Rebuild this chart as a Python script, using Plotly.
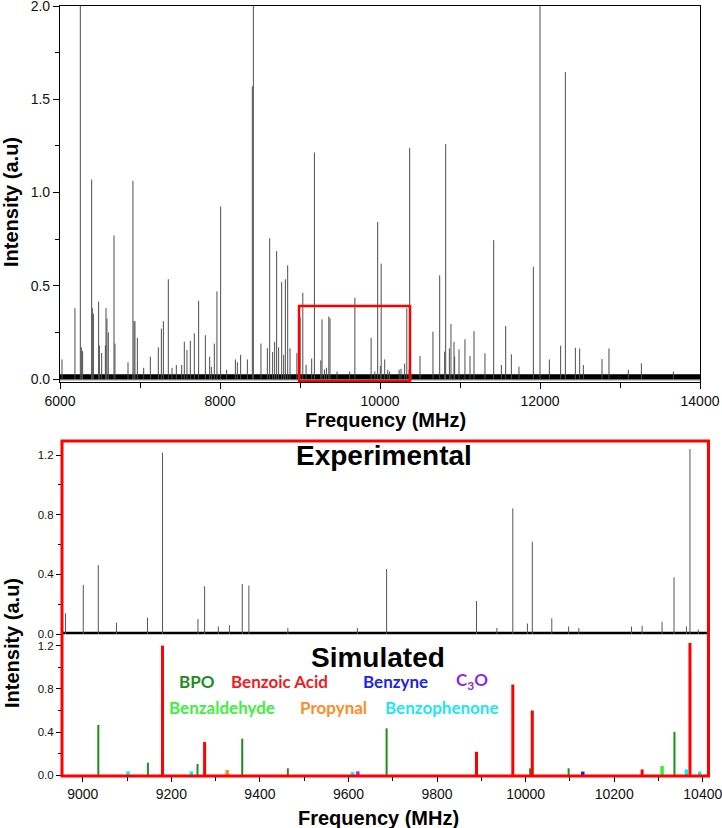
import plotly.graph_objects as go

# ---------------- data ----------------
# Experimental stick spectrum (MHz, a.u.)
exp_freq = [6025, 6187, 6254, 6267, 6283, 6396, 6404, 6417, 6483, 6492, 6521, 6567, 6575, 6587, 6604,
            6675, 6687, 6850, 6912, 6925, 6937, 6967, 7046, 7129, 7229, 7267, 7292, 7354, 7400, 7454,
            7521, 7554, 7587, 7629, 7679, 7733, 7817, 7871, 7892, 7929, 7962, 8008, 8083, 8192, 8217,
            8258, 8342, 8404, 8417, 8512, 8592, 8621, 8658, 8683, 8708, 8733, 8771, 8796, 8817, 8846,
            8875,
            8961, 9001, 9035, 9076, 9146, 9180, 9260, 9275, 9306, 9331, 9360, 9375, 9463, 9620, 9686,
            9889, 9935, 9971, 10004, 10015, 10059, 10097, 10120, 10239, 10263, 10308, 10335, 10363,
            10371, 10390,
            10500, 10662, 10746, 10808, 10821, 10867, 10887, 10925, 10933, 10988, 11062, 11125, 11175,
            11312, 11421, 11517, 11571, 11642, 11737, 11917, 12000, 12117, 12258, 12317, 12442, 12496,
            12542, 12775, 12862, 13104, 13267, 13667]
exp_int = [0.105, 0.38, 2.3, 0.17, 0.15, 1.07, 0.38, 0.35, 0.415, 0.18, 0.14, 0.18, 0.38, 0.325, 0.25,
           0.77, 0.19, 0.09, 1.063, 0.31, 0.31, 0.22, 0.06, 0.12, 0.17, 0.27, 0.31, 0.535, 0.06, 0.075,
           0.075, 0.2, 0.155, 0.205, 0.245, 0.42, 0.235, 0.12, 0.065, 0.19, 0.47, 0.925, 0.05, 0.105, 0.09,
           0.13, 0.105, 1.57, 2.3, 0.19, 0.165, 0.755, 0.145, 0.2, 0.686, 0.17, 0.52, 0.13, 0.535, 0.61,
           0.165,
           0.139, 0.33, 0.462, 0.076, 0.11, 1.215, 0.1, 0.32, 0.05, 0.06, 0.335, 0.325, 0.04, 0.04, 0.436,
           0.221, 0.04, 0.842, 0.07, 0.619, 0.105, 0.05, 0.04, 0.05, 0.055, 0.083, 0.38, 0.05,
           1.24, 0.03,
           0.123, 0.254, 0.556, 0.147, 1.26, 0.165, 0.295, 0.2, 0.12, 0.159, 0.213, 0.123, 0.257,
           0.138, 0.745, 0.075, 0.284, 0.132, 0.066, 0.602, 2.3, 0.105, 0.179, 1.646, 0.168, 0.164,
           0.075, 0.107, 0.164, 0.05, 0.084, 0.04]
noise_level_top = 0.012
noise_level_zoom = 0.006

# Simulated sticks per species
bpo_freq = [9035, 9147, 9259, 9360, 9463, 9686, 10010, 10097, 10336]
bpo_int = [0.466, 0.117, 0.105, 0.339, 0.065, 0.435, 0.065, 0.065, 0.403]
benzoic_freq = [9180, 9275, 9889, 9971, 10015, 10263, 10371]
benzoic_int = [1.2, 0.308, 0.218, 0.84, 0.6, 0.055, 1.225]
benzyne_freq = [10129]
benzyne_int = [0.035]
c3o_freq = [9621]
c3o_int = [0.037]
benzaldehyde_freq = [10308]
benzaldehyde_int = [0.086]
propynal_freq = [9326]
propynal_int = [0.05]
benzophenone_freq = [9102, 9245, 9609, 10363, 10393]
benzophenone_int = [0.037, 0.037, 0.03, 0.055, 0.035]

zoom_range = [8953, 10414]
zoom_box = [8988, 10375]

species = [
    ("BPO", bpo_freq, bpo_int, "#1e8c1e", 2.0),
    ("Benzoic Acid", benzoic_freq, benzoic_int, "#ff0000", 3.0),
    ("Benzyne", benzyne_freq, benzyne_int, "#1a1aff", 3.5),
    ("C<sub>3</sub>O", c3o_freq, c3o_int, "#9933ff", 3.5),
    ("Benzaldehyde", benzaldehyde_freq, benzaldehyde_int, "#33ee33", 3.5),
    ("Propynal", propynal_freq, propynal_int, "#ff8c1a", 3.5),
    ("Benzophenone", benzophenone_freq, benzophenone_int, "#00f0f0", 3.5),
]
label_pos = {
    "BPO": (9258, 0.87, "#1e8c1e"),
    "Benzoic Acid": (9445, 0.87, "#ee1c25"),
    "Benzyne": (9705, 0.87, "#2424e6"),
    "C<sub>3</sub>O": (9879, 0.87, "#8a2be2"),
    "Benzaldehyde": (9315, 0.625, "#3ef03e"),
    "Propynal": (9565, 0.625, "#ff8c26"),
    "Benzophenone": (9811, 0.625, "#1fe6f0"),
}


def sticks(freqs, ints):
    xs, ys = [], []
    for f, h in zip(freqs, ints):
        xs += [f, f, None]
        ys += [0, h, None]
    return xs, ys


W, H = 722, 828
fig = go.Figure()

# ---- top panel ----
fig.add_trace(go.Scatter(x=[6000, 14000], y=[-0.004, -0.004], mode="lines",
                         line=dict(color="#999999", width=1.5), xaxis="x", yaxis="y", hoverinfo="skip"))
fig.add_trace(go.Scatter(x=[6000, 14000], y=[noise_level_top, noise_level_top], mode="lines",
                         line=dict(color="black", width=5), xaxis="x", yaxis="y", hoverinfo="skip"))
sx, sy = sticks(exp_freq, exp_int)
fig.add_trace(go.Scatter(x=sx, y=sy, mode="lines", line=dict(color="#4d4d4d", width=1),
                         xaxis="x", yaxis="y"))

# ---- zoomed experimental ----
zf = [f for f in exp_freq if zoom_range[0] <= f <= zoom_range[1]]
zi = [h for f, h in zip(exp_freq, exp_int) if zoom_range[0] <= f <= zoom_range[1]]
fig.add_trace(go.Scatter(x=zoom_range, y=[noise_level_zoom, noise_level_zoom], mode="lines",
                         line=dict(color="black", width=2.5), xaxis="x2", yaxis="y2", hoverinfo="skip"))
zx, zy = sticks(zf, zi)
fig.add_trace(go.Scatter(x=zx, y=zy, mode="lines", line=dict(color="#555555", width=1),
                         xaxis="x2", yaxis="y2"))

# ---- simulated ----
for name, fr, it, col, wd in species:
    x, y = sticks(fr, it)
    fig.add_trace(go.Scatter(x=x, y=y, mode="lines", line=dict(color=col, width=wd),
                             xaxis="x2", yaxis="y3", name=name))

tickfont_big = dict(family="Arial, Liberation Sans", size=14, color="#111")
tickfont_small = dict(family="Arial, Liberation Sans", size=11.5, color="#111")

common = dict(automargin=False, ticklabeloverflow="allow", showgrid=False, zeroline=False,
              ticks="outside", tickcolor="black")

fig.update_layout(
    width=W, height=H, margin=dict(l=0, r=0, t=0, b=0, autoexpand=False),
    plot_bgcolor="white", paper_bgcolor="white", showlegend=False,
    xaxis=dict(domain=[60 / W, 700 / W], range=[6000, 14000], anchor="y",
               tick0=6000, dtick=2000, tickformat="d", ticklen=6,
               minor=dict(dtick=1000, ticks="outside", ticklen=5, tickcolor="black"),
               showline=True, linecolor="black", linewidth=1.2, mirror=True,
               tickfont=tickfont_big, **common),
    yaxis=dict(domain=[1 - 382 / H, 1 - 6 / H], range=[-0.016, 2.0005], anchor="x",
               tick0=0, dtick=0.5, tickformat=".1f", ticklen=6,
               minor=dict(dtick=0.25, ticks="outside", ticklen=4, tickcolor="black"),
               showline=True, linecolor="black", linewidth=1.2, mirror=True,
               tickfont=tickfont_big, **common),
    xaxis2=dict(domain=[62 / W, 709 / W], range=zoom_range, anchor="y3",
                tick0=9000, dtick=200, tickformat="d", ticklen=5,
                minor=dict(dtick=100, ticks="outside", ticklen=4, tickcolor="black"),
                showline=False, tickfont=tickfont_big, **common),
    yaxis2=dict(domain=[1 - 636 / H, 1 - 441 / H], range=[-0.0134, 1.294], anchor="x2",
                tickvals=[0, 0.4, 0.8, 1.2], tickformat=".1f", ticklen=5,
                minor=dict(dtick=0.2, ticks="outside", ticklen=3, tickcolor="black"),
                showline=False, tickfont=tickfont_small, **common),
    yaxis3=dict(domain=[1 - 776 / H, 1 - 636 / H], range=[-0.006, 1.289], anchor="x2",
                tickvals=[0, 0.4, 0.8, 1.2], tickformat=".1f", ticklen=5,
                minor=dict(dtick=0.2, ticks="outside", ticklen=3, tickcolor="black"),
                showline=False, tickfont=tickfont_small, **common),
)

# shapes: zoom box in top panel and red frame of bottom panel
fig.add_shape(type="rect", xref="x", yref="y", x0=zoom_box[0], x1=zoom_box[1], y0=-0.012, y1=0.391,
              line=dict(color="#ff0000", width=2.5))
fig.add_shape(type="rect", xref="paper", yref="paper", x0=62 / W, x1=708.5 / W,
              y0=1 - 776 / H, y1=1 - 441 / H, line=dict(color="#ff0000", width=3))

title_font = dict(family="Arial, Liberation Sans", size=20, color="black")
ann = [
    dict(text="<b>Frequency (MHz)</b>", x=385 / W, y=1 - 420 / H, font=title_font),
    dict(text="<b>Intensity (a.u)</b>", x=11 / W, y=1 - 202 / H, font=title_font, textangle=-90),
    dict(text="<b>Frequency (MHz)</b>", x=378 / W, y=1 - 818 / H, font=title_font),
    dict(text="<b>Intensity (a.u)</b>", x=12 / W, y=1 - 643 / H, font=title_font, textangle=-90),
]
for a in ann:
    fig.add_annotation(xref="paper", yref="paper", showarrow=False, xanchor="center", yanchor="middle", **a)

big_font = dict(family="Arial, Liberation Sans", size=28, color="black")
fig.add_annotation(text="<b>Experimental</b>", x=9680, y=1.2, xref="x2", yref="y2", showarrow=False,
                   font=big_font, xanchor="center", yanchor="middle")
fig.add_annotation(text="<b>Simulated</b>", x=9667, y=1.09, xref="x2", yref="y3", showarrow=False,
                   font=big_font, xanchor="center", yanchor="middle")
for name, (lx, ly, lc) in label_pos.items():
    fig.add_annotation(text="<b>%s</b>" % name, x=lx, y=ly, xref="x2", yref="y3", showarrow=False,
                       font=dict(family="Lato", size=17, color=lc), xanchor="center", yanchor="middle")

fig.write_html("out.html")
